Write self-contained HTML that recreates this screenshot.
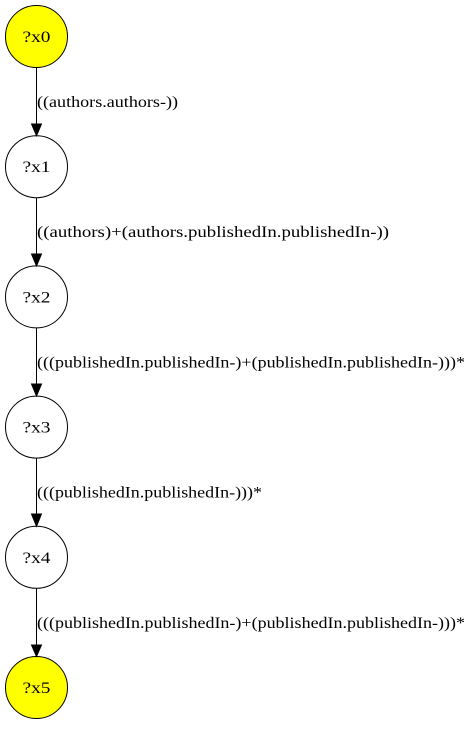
<!DOCTYPE html>
<html><head><style>html,body{margin:0;padding:0;background:#fff;}</style></head>
<body>
<svg width="473" height="725" xmlns="http://www.w3.org/2000/svg" font-family="'Liberation Serif', 'Times New Roman', Times, serif" font-size="16">
<rect width="473" height="725" fill="#fff"/>
<g stroke="#000" stroke-width="1">
<circle cx="36.5" cy="36.5" r="31" fill="#ffff00"/>
<circle cx="36.5" cy="166.7" r="31" fill="#fff"/>
<circle cx="36.5" cy="296.9" r="31" fill="#fff"/>
<circle cx="36.5" cy="427.1" r="31" fill="#fff"/>
<circle cx="36.5" cy="557.3" r="31" fill="#fff"/>
<circle cx="36.5" cy="687.5" r="31" fill="#ffff00"/>
<line x1="36.5" y1="67.5" x2="36.5" y2="124"/>
<line x1="36.5" y1="197.7" x2="36.5" y2="254"/>
<line x1="36.5" y1="327.9" x2="36.5" y2="384"/>
<line x1="36.5" y1="458.1" x2="36.5" y2="514"/>
<line x1="36.5" y1="588.3" x2="36.5" y2="645"/>
</g>
<g fill="#000" stroke="#000">
<polygon points="31.5,124 41.5,124 36.5,135.7"/>
<polygon points="31.5,254 41.5,254 36.5,265.9"/>
<polygon points="31.5,384 41.5,384 36.5,396.1"/>
<polygon points="31.5,514 41.5,514 36.5,526.3"/>
<polygon points="31.5,645 41.5,645 36.5,656.5"/>
</g>
<g text-anchor="middle">
<text x="36.5" y="42" textLength="28" lengthAdjust="spacingAndGlyphs">?x0</text>
<text x="36.5" y="172.2" textLength="28" lengthAdjust="spacingAndGlyphs">?x1</text>
<text x="36.5" y="302.4" textLength="28" lengthAdjust="spacingAndGlyphs">?x2</text>
<text x="36.5" y="432.6" textLength="28" lengthAdjust="spacingAndGlyphs">?x3</text>
<text x="36.5" y="562.8" textLength="28" lengthAdjust="spacingAndGlyphs">?x4</text>
<text x="36.5" y="693" textLength="28" lengthAdjust="spacingAndGlyphs">?x5</text>
</g>
<text x="37" y="107" textLength="141" lengthAdjust="spacingAndGlyphs">((authors.authors-))</text>
<text x="37" y="237.2" textLength="352" lengthAdjust="spacingAndGlyphs">((authors)+(authors.publishedIn.publishedIn-))</text>
<text x="37" y="367.4" textLength="428" lengthAdjust="spacingAndGlyphs">(((publishedIn.publishedIn-)+(publishedIn.publishedIn-)))*</text>
<text x="37" y="497.6" textLength="225" lengthAdjust="spacingAndGlyphs">(((publishedIn.publishedIn-)))*</text>
<text x="37" y="627.8" textLength="428" lengthAdjust="spacingAndGlyphs">(((publishedIn.publishedIn-)+(publishedIn.publishedIn-)))*</text>
</svg>
</body></html>
